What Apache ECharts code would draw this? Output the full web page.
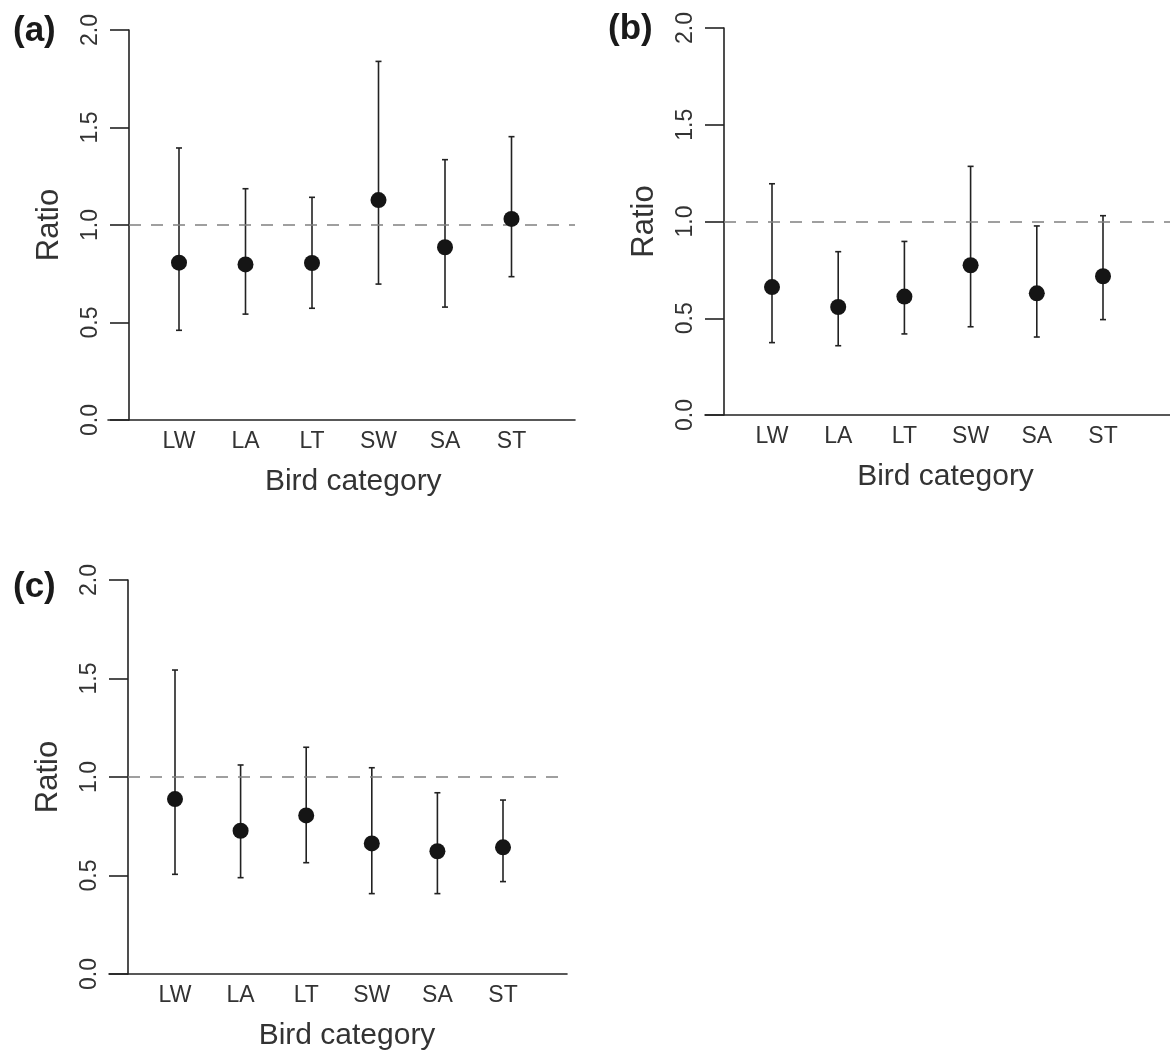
<!DOCTYPE html>
<html>
<head>
<meta charset="utf-8">
<script src="https://cdn.jsdelivr.net/npm/echarts@6/dist/echarts.min.js"></script>
<style>
html,body{margin:0;padding:0;background:#fff;}
#main{width:1170px;height:1053px;}
</style>
</head>
<body>
<div id="main"></div>
<script>
// ---- data ----
const categories = ['LW', 'LA', 'LT', 'SW', 'SA', 'ST'];
const panelLabels = ['(a)', '(b)', '(c)'];
const yTickValues = [0, 0.5, 1.0, 1.5, 2.0];
const refValue = 1.0;

const meanA  = [0.807, 0.798, 0.805, 1.128, 0.886, 1.031];
const lowerA = [0.460, 0.543, 0.573, 0.697, 0.579, 0.735];
const upperA = [1.395, 1.186, 1.142, 1.839, 1.335, 1.453];

const meanB  = [0.661, 0.558, 0.612, 0.774, 0.629, 0.717];
const lowerB = [0.374, 0.358, 0.419, 0.456, 0.403, 0.493];
const upperB = [1.195, 0.844, 0.897, 1.285, 0.977, 1.030];

const meanC  = [0.888, 0.727, 0.805, 0.663, 0.623, 0.643];
const lowerC = [0.506, 0.489, 0.565, 0.408, 0.408, 0.469];
const upperC = [1.543, 1.061, 1.151, 1.047, 0.920, 0.883];

// ---- layout (pixels) ----
const layouts = [
  {yAxisX: 129, top: 30,  bottom: 420, lineL: 108, lineR: 575, c0: 179, step: 66.5, labX: 8,   labY: 9},
  {yAxisX: 724, top: 28,  bottom: 415, lineL: 705, lineR: 1172, c0: 772, step: 66.2, labX: 603, labY: 7},
  {yAxisX: 128, top: 580, bottom: 974, lineL: 109, lineR: 567, c0: 175, step: 65.6, labX: 8,   labY: 565}
];
const panelsData = [
  {mean: meanA, lower: lowerA, upper: upperA},
  {mean: meanB, lower: lowerB, upper: upperB},
  {mean: meanC, lower: lowerC, upper: upperC}
];

const FONT = 'Liberation Sans, Arial, Helvetica, sans-serif';
const INK = '#222';

const grid = [], xAxis = [], yAxis = [], series = [], title = [];

layouts.forEach((L, p) => {
  const h = L.bottom - L.top;
  const base = grid.length;
  grid.push({left: L.lineL, top: L.top, width: L.lineR - L.lineL, height: h});
  grid.push({left: L.yAxisX, top: L.top, width: L.lineR - L.yAxisX, height: h});
  const dl = L.c0 - L.step / 2;
  grid.push({left: dl, top: L.top, width: L.step * 6, height: h});

  xAxis.push({gridIndex: base, type: 'value', min: 0, max: 1,
    axisLine: {show: true, onZero: false, lineStyle: {color: INK, width: 1.6}},
    axisTick: {show: false}, axisLabel: {show: false}, splitLine: {show: false}});
  yAxis.push({gridIndex: base, type: 'value', min: 0, max: 2, show: false});

  xAxis.push({gridIndex: base + 1, type: 'value', min: 0, max: 1, show: false});
  yAxis.push({gridIndex: base + 1, type: 'value', min: yTickValues[0], max: yTickValues[yTickValues.length - 1], interval: 0.5,
    axisLine: {show: true, lineStyle: {color: INK, width: 1.6}},
    axisTick: {show: true, inside: false, length: 19, lineStyle: {color: INK, width: 1.6}},
    axisLabel: {show: true, rotate: 90, margin: 27, color: '#333', fontSize: 23, fontFamily: FONT,
      formatter: v => v.toFixed(1)},
    splitLine: {show: false},
    name: 'Ratio', nameLocation: 'middle', nameGap: 64,
    nameTextStyle: {color: '#333', fontSize: 31, fontFamily: FONT}});

  xAxis.push({gridIndex: base + 2, type: 'category', data: categories, boundaryGap: true,
    axisLine: {show: false}, axisTick: {show: false},
    axisLabel: {show: true, margin: 10, color: '#333', fontSize: 23, fontFamily: FONT, interval: 0},
    name: 'Bird category', nameLocation: 'middle', nameGap: 47,
    nameTextStyle: {color: '#333', fontSize: 30, fontFamily: FONT, padding: [0, 0, 0, 16]}});
  yAxis.push({gridIndex: base + 2, type: 'value', min: 0, max: 2, show: false});

  series.push({type: 'line', xAxisIndex: base + 1, yAxisIndex: base + 1, data: [], silent: true,
    markLine: {silent: true, symbol: ['none', 'none'], label: {show: false},
      lineStyle: {type: [12, 10], color: '#808080', width: 1.6},
      data: [{yAxis: refValue}]}});

  const D = panelsData[p];
  series.push({type: 'custom', xAxisIndex: base + 2, yAxisIndex: base + 2,
    data: categories.map((c, i) => [i, D.lower[i], D.upper[i]]),
    renderItem: function (params, api) {
      const lo = api.coord([api.value(0), api.value(1)]);
      const hi = api.coord([api.value(0), api.value(2)]);
      const cw = 3;
      const st = {stroke: INK, lineWidth: 1.6};
      return {type: 'group', children: [
        {type: 'line', shape: {x1: lo[0], y1: lo[1], x2: hi[0], y2: hi[1]}, style: st},
        {type: 'line', shape: {x1: lo[0] - cw, y1: lo[1], x2: lo[0] + cw, y2: lo[1]}, style: st},
        {type: 'line', shape: {x1: hi[0] - cw, y1: hi[1], x2: hi[0] + cw, y2: hi[1]}, style: st}
      ]};
    }});
  series.push({type: 'scatter', xAxisIndex: base + 2, yAxisIndex: base + 2,
    symbol: 'circle', symbolSize: 16, itemStyle: {color: '#151515', opacity: 1},
    data: categories.map((c, i) => [i, D.mean[i]]), z: 5});

  title.push({text: panelLabels[p], left: L.labX, top: L.labY,
    textStyle: {fontSize: 35, fontWeight: 'bold', color: '#1a1a1a', fontFamily: FONT}});
});

const chart = echarts.init(document.getElementById('main'), null, {renderer: 'canvas'});
chart.setOption({
  animation: false,
  backgroundColor: '#fff',
  title: title,
  grid: grid,
  xAxis: xAxis,
  yAxis: yAxis,
  series: series
});
</script>
</body>
</html>
